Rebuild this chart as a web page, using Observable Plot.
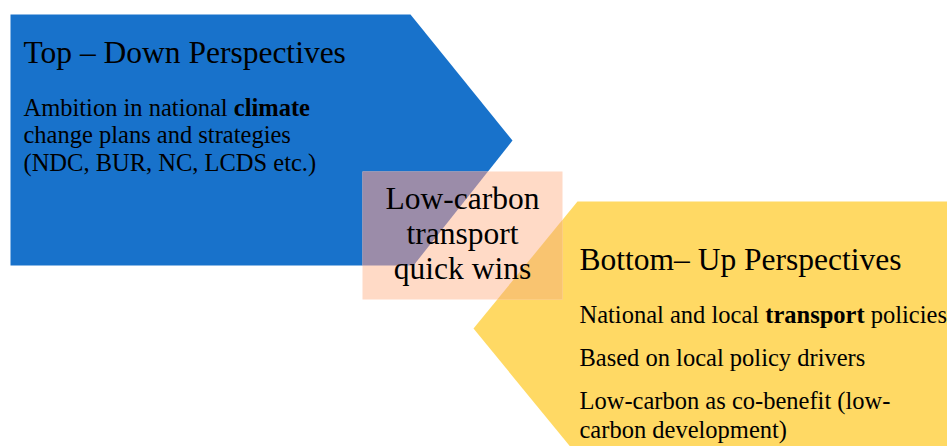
<!DOCTYPE html>
<html><head><meta charset="utf-8">
<script src="https://cdn.jsdelivr.net/npm/d3@7"></script>
<script src="https://cdn.jsdelivr.net/npm/@observablehq/plot@0.6"></script>
<style>html,body{margin:0;padding:0;background:#fff;}</style>
</head><body><div id="chart"></div>
<script>
// Shapes (diagram coordinates, px from top-left)
const topDownX = [10, 410, 512, 413, 10];
const topDownY = [14, 14, 140, 265, 265];
const bottomUpX = [577, 960, 960, 577, 473];
const bottomUpY = [201, 201, 460, 455, 328];
const quickWinsX = [362, 562];
const quickWinsY = [171, 299];

// Text content
const topDownTitle = ["Top – Down Perspectives"];
const topDownLines = ["Ambition in national **climate**", "change plans and strategies", "(NDC, BUR, NC, LCDS etc.)"];
const centerLines = ["Low-carbon", "transport", "quick wins"];
const bottomUpTitle = ["Bottom– Up Perspectives"];
const bottomUpLines = ["National and local **transport** policies", "Based on local policy drivers", "Low-carbon as co-benefit (low-", "carbon development)"];

// Layout
const topDownLayout = {x: 23, titleY: 62, lineY: [115, 142, 170]};
const centerLayout = {x: 462, lineY: [208, 243, 278]};
const bottomUpLayout = {x: 579, titleY: 269, lineY: [322, 365, 408, 437]};

const poly = (xs, ys) => xs.map((x, i) => ({x, y: ys[i]}));
const font = "Liberation Serif, Times New Roman, serif";

// clip a polygon to an axis-aligned rectangle (Sutherland–Hodgman)
function clipToRect(pts, x0, x1, y0, y1) {
  const edges = [
    [p => p.x >= x0, (a, b) => ({x: x0, y: a.y + (b.y - a.y) * (x0 - a.x) / (b.x - a.x)})],
    [p => p.x <= x1, (a, b) => ({x: x1, y: a.y + (b.y - a.y) * (x1 - a.x) / (b.x - a.x)})],
    [p => p.y >= y0, (a, b) => ({x: a.x + (b.x - a.x) * (y0 - a.y) / (b.y - a.y), y: y0})],
    [p => p.y <= y1, (a, b) => ({x: a.x + (b.x - a.x) * (y1 - a.y) / (b.y - a.y), y: y1})]
  ];
  let out = pts;
  for (const [inside, cut] of edges) {
    const inp = out; out = [];
    for (let i = 0; i < inp.length; i++) {
      const cur = inp[i], prev = inp[(i + inp.length - 1) % inp.length];
      if (inside(cur)) { if (!inside(prev)) out.push(cut(prev, cur)); out.push(cur); }
      else if (inside(prev)) out.push(cut(prev, cur));
    }
  }
  return out;
}

const topDownPoly = poly(topDownX, topDownY);
const bottomUpPoly = poly(bottomUpX, bottomUpY);
const boxPoly = poly([quickWinsX[0], quickWinsX[1], quickWinsX[1], quickWinsX[0]], [quickWinsY[0], quickWinsY[0], quickWinsY[1], quickWinsY[1]]);
const overlapBlue = clipToRect(topDownPoly, quickWinsX[0], quickWinsX[1], quickWinsY[0], quickWinsY[1]);
const overlapYellow = clipToRect(bottomUpPoly, quickWinsX[0], quickWinsX[1], quickWinsY[0], quickWinsY[1]);

const texts = [
  ...topDownTitle.map(t => ({t, x: topDownLayout.x, y: topDownLayout.titleY, s: 31.5, a: "start"})),
  ...topDownLines.map((t, i) => ({t, x: topDownLayout.x, y: topDownLayout.lineY[i], s: 24.5, a: "start"})),
  ...centerLines.map((t, i) => ({t, x: centerLayout.x, y: centerLayout.lineY[i], s: 31.5, a: "middle"})),
  ...bottomUpTitle.map(t => ({t, x: bottomUpLayout.x, y: bottomUpLayout.titleY, s: 31.5, a: "start"})),
  ...bottomUpLines.map((t, i) => ({t, x: bottomUpLayout.x, y: bottomUpLayout.lineY[i], s: 24.5, a: "start"}))
];

const area = (pts, fill) => Plot.line(pts, {x: "x", y: "y", curve: "linear-closed", fill, stroke: "none"});

const plot = Plot.plot({
  width: 947, height: 446,
  margin: 0,
  x: {domain: [0, 947], axis: null},
  y: {domain: [0, 446], reverse: true, axis: null},
  clip: true,
  marks: [
    area(topDownPoly, "#1872cb"),
    area(bottomUpPoly, "#ffd964"),
    area(boxPoly, "#ffdac6"),
    area(overlapBlue, "#9b8ca9"),
    area(overlapYellow, "#f9c470"),
    ...[24.5, 31.5].flatMap(s => ["start", "middle"].map(a =>
      Plot.text(texts.filter(d => d.s === s && d.a === a), {x: "x", y: "y", text: "t", fontSize: s, textAnchor: a, lineAnchor: "bottom", fill: "#000", fontFamily: font})
    ))
  ]
});

plot.querySelectorAll("text").forEach(t => {
  const s = t.textContent;
  if (s.includes("**")) {
    const parts = s.split("**");
    t.textContent = "";
    parts.forEach((p, i) => {
      const ts = document.createElementNS("http://www.w3.org/2000/svg", "tspan");
      ts.textContent = p;
      if (i % 2) ts.setAttribute("font-weight", "bold");
      t.appendChild(ts);
    });
  }
});
document.getElementById("chart").appendChild(plot);
</script></body></html>
